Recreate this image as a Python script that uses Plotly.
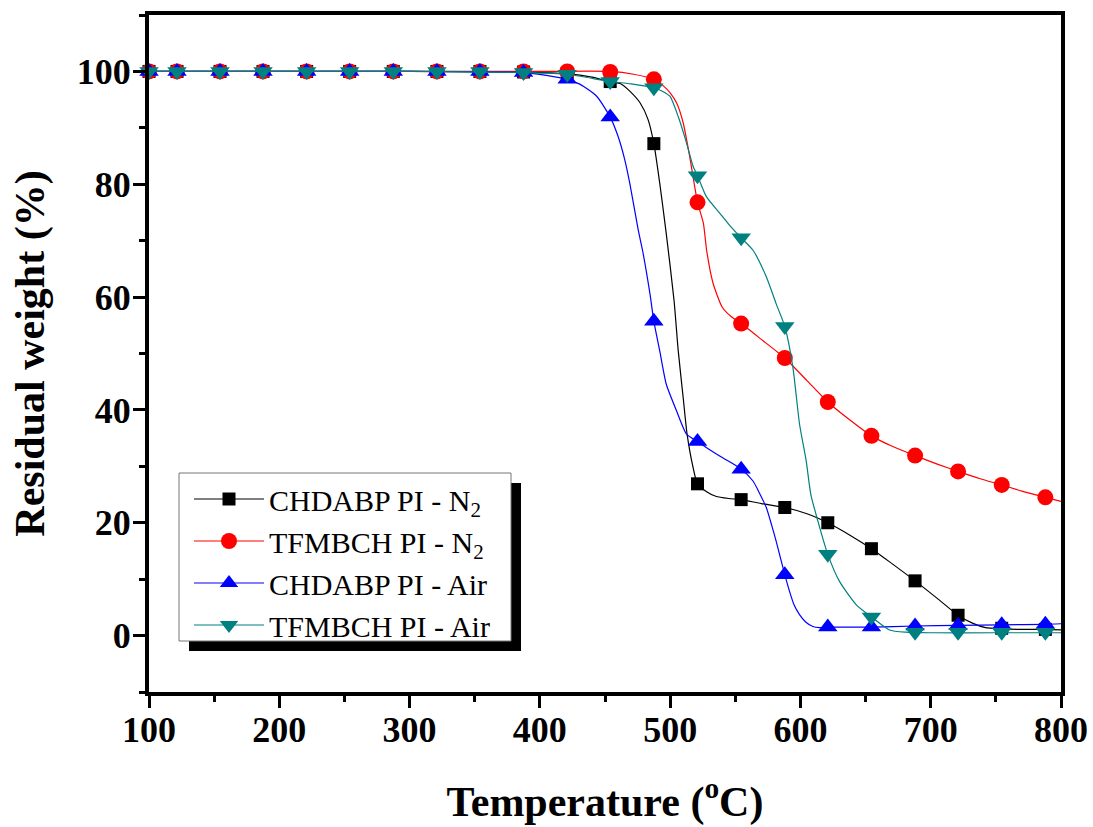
import plotly.graph_objects as go

# ---------------- data ----------------
T_MARK = [100, 121.5, 154.5, 187.5, 221, 254, 287.5, 321, 354, 387.5, 421, 454,
          487.5, 521, 554.5, 588, 621, 654.5, 688, 721, 754.5, 788]

CHDABP_N2_MARK = [100, 100, 100, 100, 100, 100, 100, 100, 100, 99.9, 99.6, 98.2,
                  87.2, 26.9, 24.1, 22.7, 20.0, 15.4, 9.7, 3.6, 1.3, 1.1]
TFMBCH_N2_MARK = [100, 100, 100, 100, 100, 100, 100, 100, 100, 100, 100.0, 99.9,
                  98.6, 76.8, 55.3, 49.2, 41.4, 35.4, 31.9, 29.1, 26.7, 24.5]
CHDABP_AIR_MARK = [100, 100, 100, 100, 100, 100, 100, 100, 100, 99.8, 98.6, 91.9,
                   55.7, 34.4, 29.5, 10.8, 1.5, 1.5, 1.7, 1.8, 1.9, 2.0]
TFMBCH_AIR_MARK = [100, 100, 100, 100, 100, 100, 100, 100, 100, 99.8, 99.5, 98.2,
                   97.1, 81.5, 70.5, 54.8, 14.4, 3.3, 0.6, 0.6, 0.6, 0.6]

CHDABP_N2_T = [100, 200, 300, 387.5, 421, 440, 454, 462, 469, 477, 483, 487.5, 492,
               497, 503, 506.2, 510, 513, 517.6, 521, 528, 535, 545, 554.5,
               570, 588, 605, 621, 638, 654.5, 670, 688, 705, 721, 732, 742, 754.5,
               770, 788, 800]
CHDABP_N2_W = [100, 100, 100, 99.9, 99.6, 99.0, 98.2, 97.8, 96.5, 94.4, 91.5, 87.2,
               80.2, 71.3, 59.4, 50.5, 42.2, 35.7, 29.8, 26.9, 25.5, 24.7,
               24.3, 24.1, 23.4, 22.7, 21.6, 20.0, 17.8, 15.4, 12.8, 9.7, 6.6, 3.6,
               2.2, 1.4, 1.2, 1.1, 1.1, 1.0]

TFMBCH_N2_T = [100, 200, 300, 400, 454, 472, 487.5, 495, 500, 505, 510, 515, 521,
               525.5, 528, 533, 540, 547, 554.5, 570, 588, 605, 621, 638, 654.5,
               670, 688, 705, 721, 738, 754.5, 770, 788, 800]
TFMBCH_N2_W = [100, 100, 100, 100, 100, 99.5, 98.6, 97.4, 96.2, 94.4, 90.9, 84.9,
               76.8, 73.1, 68.3, 62.4, 58.2, 56.5, 55.3, 52.5, 49.2, 45.2, 41.4,
               38.2, 35.4, 33.6, 31.9, 30.4, 29.1, 27.8, 26.7, 25.6, 24.5, 23.8]

CHDABP_AIR_T = [100, 200, 300, 387.5, 405, 421, 431, 443.6, 454, 460, 465, 469,
                475.5, 478.8, 484.5, 487.5, 492, 497, 504.8, 512.6, 521, 528, 535.5,
                545, 554.5, 563.6, 568, 573.8, 578, 581.4, 588, 591.7, 595, 599.3,
                604, 609.5, 614.7, 621, 654.5, 688, 721, 754.5, 788, 800]
CHDABP_AIR_W = [100, 100, 100, 99.8, 99.3, 98.6, 97.7, 95.6, 91.9, 88.5, 84.5, 80.2,
                71.9, 68.3, 60.6, 55.7, 50.5, 44.6, 39.9, 35.7, 34.4, 33.3, 32.2,
                30.9, 29.5, 27.4, 25.5, 22.7, 19.5, 16.7, 10.8, 7.8, 5.5, 3.7, 2.4,
                1.6, 1.4, 1.5, 1.5, 1.7, 1.8, 1.9, 2.0, 2.1]

TFMBCH_AIR_T = [100, 200, 300, 387.5, 421, 454, 470, 487.5, 494, 499.8, 506.2, 512.6,
                517.6, 521, 527.8, 538, 545, 554.5, 563.6, 573.8, 581.4, 588, 594.2,
                599.3, 604.4, 608, 613.4, 621, 630, 642.7, 654.5, 668.3, 681, 700,
                750, 800]
TFMBCH_AIR_W = [100, 100, 100, 99.8, 99.5, 98.2, 97.8, 97.1, 96.5, 95.6, 92.0, 87.3,
                83.2, 81.5, 77.8, 74.9, 72.9, 70.5, 68.3, 63.6, 58.8, 54.8, 47.6,
                37.5, 31.0, 25.0, 20.3, 14.4, 9.6, 5.5, 3.3, 1.0, 0.6, 0.5, 0.5, 0.5]

NAMES = ["CHDABP PI - N<sub>2</sub>", "TFMBCH PI - N<sub>2</sub>",
         "CHDABP PI - Air", "TFMBCH PI - Air"]
COLORS = ["#000000", "#FF0000", "#0000FF", "#008080"]
SYMBOLS = ["square", "circle", "triangle-up", "triangle-down"]
SIZES = [13, 16, 17, 17]

LINES_T = [CHDABP_N2_T, TFMBCH_N2_T, CHDABP_AIR_T, TFMBCH_AIR_T]
LINES_W = [CHDABP_N2_W, TFMBCH_N2_W, CHDABP_AIR_W, TFMBCH_AIR_W]
MARKS_W = [CHDABP_N2_MARK, TFMBCH_N2_MARK, CHDABP_AIR_MARK, TFMBCH_AIR_MARK]

# ---------------- figure ----------------
W_PX, H_PX = 1093, 827
ML, MR, MT, MB = 149, 32, 15, 135
PW, PH = W_PX - ML - MR, H_PX - MT - MB


def px2paper(px, py):
    return (px - ML) / PW, (H_PX - MB - py) / PH


fig = go.Figure()

for i in range(4):
    fig.add_trace(go.Scatter(
        x=LINES_T[i], y=LINES_W[i], mode="lines",
        line=dict(color=COLORS[i], width=1.2, shape="spline", smoothing=0.6),
        showlegend=False, hoverinfo="skip"))
    fig.add_trace(go.Scatter(
        x=T_MARK, y=MARKS_W[i], mode="markers",
        marker=dict(symbol=SYMBOLS[i], size=SIZES[i], color=COLORS[i],
                    line=dict(width=0)),
        showlegend=False, cliponaxis=False, name=NAMES[i]))

for i in range(4):
    fig.add_trace(go.Scatter(
        x=[None], y=[None], mode="lines+markers", name=NAMES[i],
        legendgroup=f"g{i}",
        line=dict(color=COLORS[i], width=1.2),
        marker=dict(symbol=SYMBOLS[i], size=SIZES[i], color=COLORS[i],
                    line=dict(width=0))))

# legend box with drop shadow
x0, y0 = px2paper(189, 651)
x1, y1 = px2paper(521, 483)
fig.add_shape(type="rect", xref="paper", yref="paper", x0=x0, y0=y0, x1=x1, y1=y1,
              fillcolor="black", line=dict(width=0), layer="above")
x0, y0 = px2paper(179, 641)
x1, y1 = px2paper(511, 473)
fig.add_shape(type="rect", xref="paper", yref="paper", x0=x0, y0=y0, x1=x1, y1=y1,
              fillcolor="white", line=dict(color="#777777", width=1), layer="above")

lx, ly = px2paper(189, 473)

tickfont = dict(family="Liberation Serif", size=36, color="black", weight="bold")
titlefont = dict(family="Liberation Serif", size=42, color="black", weight="bold")

fig.update_layout(
    width=W_PX, height=H_PX,
    margin=dict(l=ML, r=MR, t=MT, b=MB),
    paper_bgcolor="white", plot_bgcolor="white",
    showlegend=True,
    legend=dict(x=lx, y=ly, xanchor="left", yanchor="top",
                bgcolor="rgba(0,0,0,0)", borderwidth=0,
                font=dict(family="Liberation Serif", size=30, color="black"),
                itemwidth=70, tracegroupgap=0),
    xaxis=dict(range=[100, 800], tickmode="array",
               tickvals=[100, 200, 300, 400, 500, 600, 700, 800],
               showgrid=False, zeroline=False, automargin=False,
               showline=True, linecolor="black", linewidth=4, mirror=True,
               ticks="outside", ticklen=12, tickwidth=3, tickcolor="black",
               minor=dict(ticks="outside", ticklen=6, tickwidth=3, tickcolor="black",
                          tickvals=[150, 250, 350, 450, 550, 650, 750]),
               tickfont=tickfont, ticklabelstandoff=-9,
               title=dict(text="Temperature (<sup>o</sup>C)", font=titlefont,
                          standoff=38)),
    yaxis=dict(range=[-10, 110], tickmode="array",
               tickvals=[0, 20, 40, 60, 80, 100],
               showgrid=False, zeroline=False, automargin=False,
               showline=True, linecolor="black", linewidth=4, mirror=True,
               ticks="outside", ticklen=12, tickwidth=3, tickcolor="black",
               minor=dict(ticks="outside", ticklen=6, tickwidth=3, tickcolor="black",
                          tickvals=[-10, 10, 30, 50, 70, 90, 110]),
               tickfont=tickfont, ticklabelstandoff=-5,
               title=dict(text="Residual weight (%)", font=titlefont, standoff=20)),
)

fig.write_html("out.html", config={"displayModeBar": False},
               post_script="document.body.style.margin='0px';")
